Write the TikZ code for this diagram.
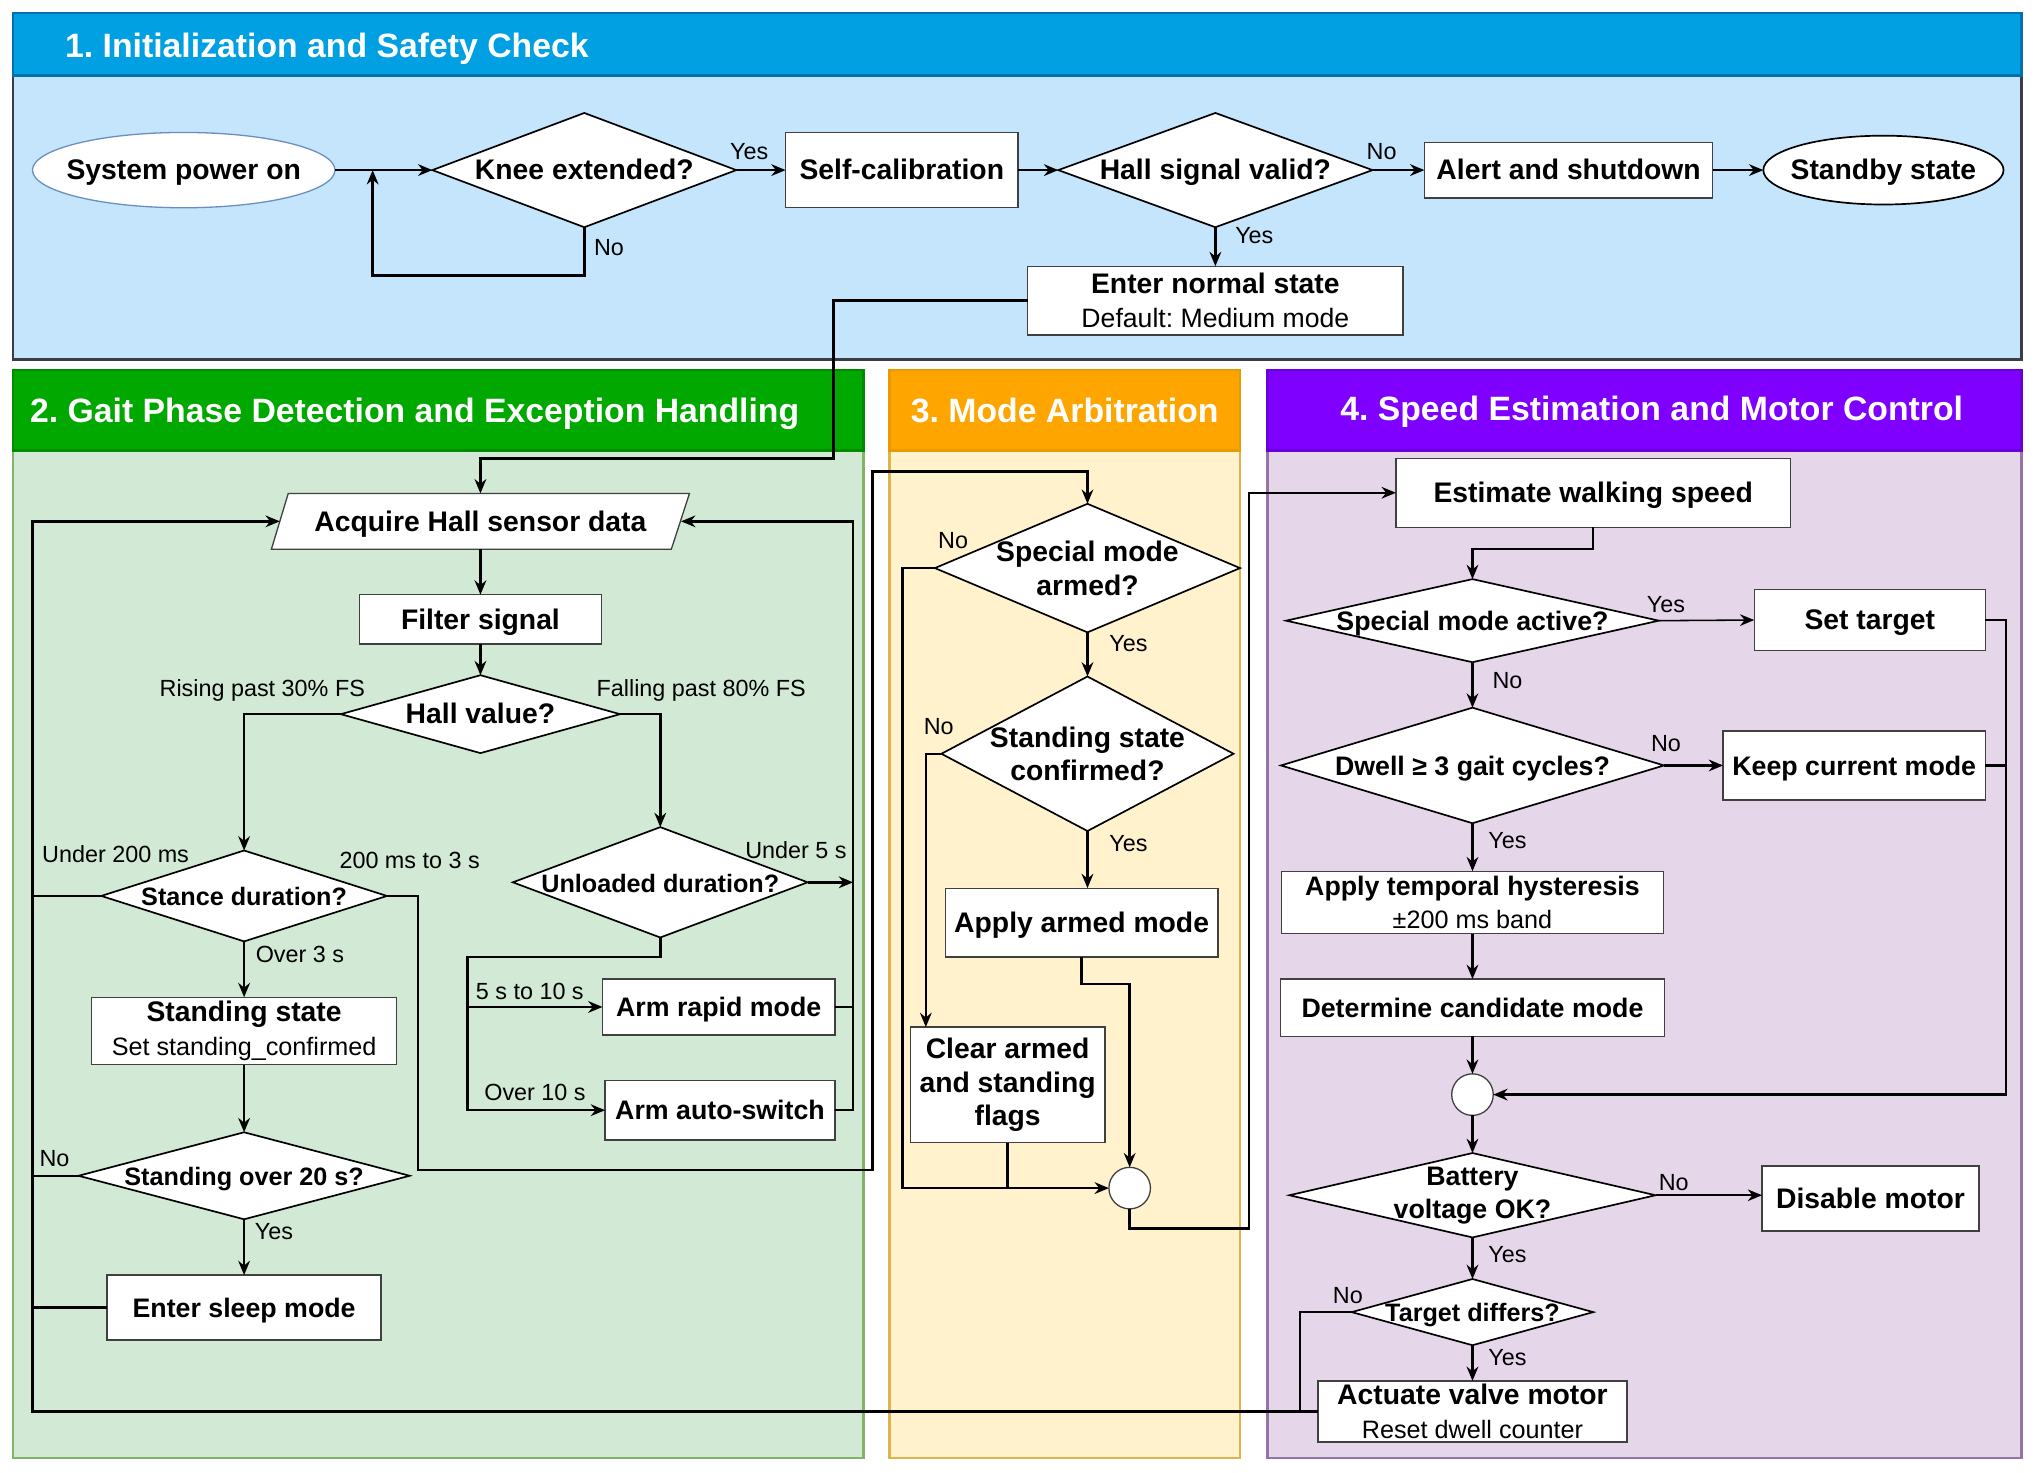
\documentclass[tikz,border=0pt]{standalone}
\usepackage{fontspec}
\setmainfont{Liberation Sans}
\usetikzlibrary{shapes.geometric,arrows.meta,calc}
\frenchspacing
\definecolor{sAh}{HTML}{00A0E3}
\definecolor{sAhd}{HTML}{0070B0}
\definecolor{sAb}{HTML}{C4E5FB}
\definecolor{sAbd}{HTML}{3A3D42}
\definecolor{sBh}{HTML}{00A800}
\definecolor{sBhd}{HTML}{008A00}
\definecolor{sBb}{HTML}{D1E9D5}
\definecolor{sBbd}{HTML}{82B366}
\definecolor{sCh}{HTML}{FFA500}
\definecolor{sChd}{HTML}{E89B00}
\definecolor{sCb}{HTML}{FFF2CC}
\definecolor{sCbd}{HTML}{E0B44C}
\definecolor{sDh}{HTML}{7F00FF}
\definecolor{sDhd}{HTML}{6A00D8}
\definecolor{sDb}{HTML}{E6D6EA}
\definecolor{sDbd}{HTML}{9673A6}
\definecolor{pwrb}{HTML}{6C8EBF}
\newcommand\myfT{\bfseries\fontsize{26}{30}\selectfont}
\newcommand\myfA{\bfseries\fontsize{21.8}{26}\selectfont}
\newcommand\myfB{\bfseries\fontsize{20.6}{25.5}\selectfont}
\newcommand\myfC{\bfseries\fontsize{19.4}{24}\selectfont}
\newcommand\myfS{\mdseries\fontsize{19.4}{24}\selectfont}
\newcommand\myfD{\mdseries\fontsize{20.5}{24}\selectfont}
\newcommand\myfL{\mdseries\fontsize{18}{21}\selectfont}
\begin{document}
\begin{tikzpicture}[x=1pt,y=-1pt,
  sz/.style 2 args={minimum width=#1pt, minimum height=#2pt},
  box/.style={rectangle, draw=black!75, fill=white, line width=1pt, inner sep=0pt, outer sep=0pt, align=center, font=\myfA, text height=15pt, text depth=0pt},
  term/.style={ellipse, draw=black, fill=white, line width=1.3pt, inner sep=0pt, outer sep=0pt},
  dia/.style={diamond, draw=black, fill=white, line width=1.3pt, inner sep=0pt, outer sep=0pt},
  merge/.style={circle, draw=black!75, fill=white, line width=1pt, inner sep=0pt, outer sep=0pt, minimum size=32pt},
  txt/.style={inner sep=0pt, outer sep=0pt, align=center, font=\myfA, text height=15pt, text depth=0pt},
  ml/.style={text height=, text depth=},
  lab/.style={inner sep=0pt, font=\myfL, text height=13pt, text depth=0pt},
  ttl/.style={inner sep=0pt, text=white, font=\myfT},
  ln/.style={line width=1.9pt, line join=miter},
  arr/.style={ln, -{Stealth[length=11pt,width=9pt]}},
  tarr/.style={line width=1.2pt, -{Stealth[length=11pt,width=9pt]}}
]
\useasboundingbox (0,0) rectangle (1568,1134);

% ---------- frames ----------
\draw[fill=sAb, draw=sAbd, line width=2pt] (10,58) rectangle (1557,277);
\draw[fill=sAh, draw=sAhd, line width=2pt] (10,10) rectangle (1557,58);
\draw[fill=sBb, draw=sBbd, line width=2pt] (10,347) rectangle (665,1123);
\draw[fill=sBh, draw=sBhd, line width=2pt] (10,285) rectangle (665,347);
\draw[fill=sCb, draw=sCbd, line width=2pt] (685,347) rectangle (955,1123);
\draw[fill=sCh, draw=sChd, line width=2pt] (685,285) rectangle (955,347);
\draw[fill=sDb, draw=sDbd, line width=2pt] (976,347) rectangle (1557,1123);
\draw[fill=sDh, draw=sDhd, line width=2pt] (976,285) rectangle (1557,347);

\node[ttl, anchor=base west] (t1) at (50,44.5) {1. Initialization and Safety Check};
\node[ttl, anchor=base west] (t2) at (23,325) {2. Gait Phase Detection and Exception Handling};
\node[ttl, anchor=base] (t3) at (820,325) {3. Mode Arbitration};
\node[ttl, anchor=base] (t4) at (1272,324) {4. Speed Estimation and Motor Control};

% ---------- section 1 nodes ----------
\node[term, draw=pwrb, line width=1pt, sz={233}{58}] (pwr) at (141.5,131) {};
\node[txt] (pwrT) at (pwr) {System power on};
\node[dia, sz={234}{88}] (knee) at (450,131) {};
\node[txt] (kneeT) at (knee) {Knee extended?};
\node[box, sz={179}{58}] (cal) at (694.5,131) {Self-calibration};
\node[dia, sz={242}{88}] (hall) at (936,131) {};
\node[txt] (hallT) at (hall) {Hall signal valid?};
\node[box, sz={222}{43}] (alert) at (1208,131) {Alert and shutdown};
\node[term, sz={185}{53}] (stby) at (1450.5,131) {};
\node[txt] (stbyT) at (stby) {Standby state};
\node[box, ml, sz={289}{53}] (norm) at (936,231.5) {Enter normal state\\{\myfD Default: Medium mode}};
\coordinate (j1) at (287,131);

% ---------- section 2 nodes ----------
\draw[fill=white, draw=black!75, line width=1pt] (209,423) -- (222,380) -- (531,380) -- (517,423) -- cycle;
\node[txt, sz={309}{43}] (acq) at (370,401.5) {Acquire Hall sensor data};
\node[box, sz={186}{38}] (filt) at (370,477) {Filter signal};
\node[dia, sz={215}{60}] (hv) at (370,550) {};
\node[txt] (hvT) at (hv) {Hall value?};
\node[dia, sz={220}{70}] (stance) at (188,690) {};
\node[txt, font=\myfC] (stanceT) at (stance) {Stance duration?};
\node[dia, sz={227}{85}] (unl) at (508.5,679.5) {};
\node[txt, font=\myfC] (unlT) at (unl) {Unloaded duration?};
\node[box, ml, sz={235}{52}] (stand) at (188,794) {Standing state\\{\myfS Set standing\_confirmed}};
\node[dia, sz={255}{67}] (s20) at (188,905.5) {};
\node[txt, font=\myfC] (s20T) at (s20) {Standing over 20 s?};
\node[box, font=\myfB, sz={211}{50}] (sleep) at (188,1007) {Enter sleep mode};
\node[box, font=\myfB, sz={179}{43}] (rapid) at (553.5,775.5) {Arm rapid mode};
\node[box, font=\myfB, sz={177}{46}] (auto) at (554.5,855) {Arm auto-switch};
\coordinate (jr) at (360,775.5);

% ---------- section 3 nodes ----------
\node[dia, sz={235}{99}] (sma) at (837.5,437.5) {};
\node[txt, ml] (smaT) at (sma) {Special mode\\armed?};
\node[dia, sz={225}{119}] (ssc) at (837.5,580.5) {};
\node[txt, ml] (sscT) at (ssc) {Standing state\\confirmed?};
\node[box, sz={210}{53}] (apply) at (833,710.5) {Apply armed mode};
\node[box, ml, sz={150}{89}] (clear) at (776,835.5) {Clear armed\\and standing\\flags};
\node[merge] (m1) at (870,915) {};

% ---------- section 4 nodes ----------
\node[box, sz={304}{53}] (est) at (1227,379.5) {Estimate walking speed};
\node[dia, sz={287}{64}] (sma4) at (1134,478) {};
\node[txt, font=\myfB] (sma4T) at (sma4) {Special mode active?};
\node[box, sz={178}{47}] (settgt) at (1440,477.5) {Set target};
\node[dia, sz={295}{89}] (dwell) at (1134,589.5) {};
\node[txt, font=\myfB] (dwellT) at (dwell) {Dwell ≥ 3 gait cycles?};
\node[box, font=\myfB, sz={202}{53}] (keep) at (1428,589.5) {Keep current mode};
\node[box, ml, font=\myfB, sz={294}{48}] (hyst) at (1134,695) {Apply temporal hysteresis\\{\myfS ±200 ms band}};
\node[box, font=\myfB, sz={296}{44}] (cand) at (1134,776) {Determine candidate mode};
\node[merge] (m2) at (1134,843) {};
\node[dia, sz={282}{65}] (batt) at (1134,920.5) {};
\node[txt, ml, font=\myfB] (battT) at (batt) {Battery\\voltage OK?};
\node[box, sz={167}{50}] (dis) at (1440.5,923) {Disable motor};
\node[dia, sz={186}{51}] (tgt) at (1134,1010.5) {};
\node[txt, font=\myfC] (tgtT) at (tgt) {Target differs?};
\node[box, ml, sz={238}{47}] (act) at (1134,1087) {Actuate valve motor\\{\myfS Reset dwell counter}};

% ---------- section 1 connectors ----------
\draw[arr] (pwr.east) -- (knee.west);
\draw[arr] (knee.south) -- ++(0,37) -| (j1);
\draw[arr] (knee.east) -- (cal.west);
\draw[arr] (cal.east) -- (hall.west);
\draw[arr] (hall.east) -- (alert.west);
\draw[arr] (alert.east) -- (stby.west);
\draw[arr] (hall.south) -- (norm.north);
\draw[arr] (norm.west) -- (642,231.5) -- (642,353) -| (acq.north);
\node[lab] (l1) at (577,116) {Yes};
\node[lab] (l2) at (469,190) {No};
\node[lab] (l3) at (1064,116) {No};
\node[lab] (l4) at (966,181) {Yes};

% ---------- section 2 connectors ----------
\draw[arr] (acq.south) -- (filt.north);
\draw[arr] (filt.south) -- (hv.north);
\draw[arr] (hv.west) -| (stance.north);
\draw[arr] (hv.east) -| (unl.north);
\draw[arr] (stance.south) -- (stand.north);
\draw[arr] (stand.south) -- (s20.north);
\draw[arr] (s20.south) -- (sleep.north);
\draw[arr] (act.west) -| (25,401.5) -- (acq.west);
\draw[ln] (stance.west) -- (25,690);
\draw[ln] (s20.west) -- (25,905.5);
\draw[ln] (sleep.west) -- (25,1007);
\draw[arr] (stance.east) -- (322,690) -- (322,901) -- (672,901) -- (672,363) -| (sma.north);
\draw[arr] (unl.east) -- (657,679.5);
\draw[arr] (auto.east) -- (657,855) -- (657,401.5) -- (acq.east);
\draw[ln] (rapid.east) -- (657,775.5);
\draw[arr] (unl.south) |- (360,737) |- (auto.west);
\draw[arr] (jr) -- (rapid.west);
\node[lab] (l5) at (202,530) {Rising past 30\% FS};
\node[lab] (l6) at (540,530) {Falling past 80\% FS};
\node[lab] (l7) at (89,658) {Under 200 ms};
\node[lab] (l8) at (315.5,662) {200 ms to 3 s};
\node[lab] (l9) at (231,735) {Over 3 s};
\node[lab] (l10) at (613,655) {Under 5 s};
\node[lab] (l11) at (408,763) {5 s to 10 s};
\node[lab] (l12) at (412,841) {Over 10 s};
\node[lab] (l13) at (42,892) {No};
\node[lab] (l14) at (211,948) {Yes};

% ---------- section 3 connectors ----------
\draw[arr] (sma.south) -- (ssc.north);
\draw[arr] (sma.west) -- (695,437.5) |- (m1.west);
\draw[arr] (ssc.south) -- (ssc.south |- apply.north);
\draw[arr] (ssc.west) -| ($(clear.north west)+(12,0)$);
\draw[arr] (apply.south) -- (833,758) -| (m1.north);
\draw[ln] (clear.south) -- (clear.south |- m1.west);
\draw[arr] (m1.south) |- (962,946) |- (est.west);
\node[lab] (l15) at (734,416) {No};
\node[lab] (l16) at (869,495) {Yes};
\node[lab] (l17) at (723,559) {No};
\node[lab] (l18) at (869,649) {Yes};

% ---------- section 4 connectors ----------
\draw[arr] (est.south) -- ++(0,17) -| (sma4.north);
\draw[tarr] (sma4.east) -- (settgt.west);
\draw[arr] (sma4.south) -- (dwell.north);
\draw[arr] (dwell.east) -- (keep.west);
\draw[arr] (dwell.south) -- (hyst.north);
\draw[arr] (hyst.south) -- (cand.north);
\draw[arr] (cand.south) -- (m2.north);
\draw[arr] (settgt.east) -| (1545,843) -- (m2.east);
\draw[ln] (keep.east) -- (1545,589.5);
\draw[arr] (m2.south) -- (batt.north);
\draw[tarr] (batt.east) -- (batt.east -| dis.west);
\draw[arr] (batt.south) -- (tgt.north);
\draw[arr] (tgt.south) -- (act.north);
\draw[ln] (tgt.west) -| (1001,1087);
\node[lab] (l19) at (1283,465) {Yes};
\node[lab] (l20) at (1161,524) {No};
\node[lab] (l21) at (1283,572) {No};
\node[lab] (l22) at (1161,647) {Yes};
\node[lab] (l23) at (1289,910) {No};
\node[lab] (l24) at (1161,966) {Yes};
\node[lab] (l25) at (1038,997) {No};
\node[lab] (l26) at (1161,1045) {Yes};
\end{tikzpicture}
\end{document}
